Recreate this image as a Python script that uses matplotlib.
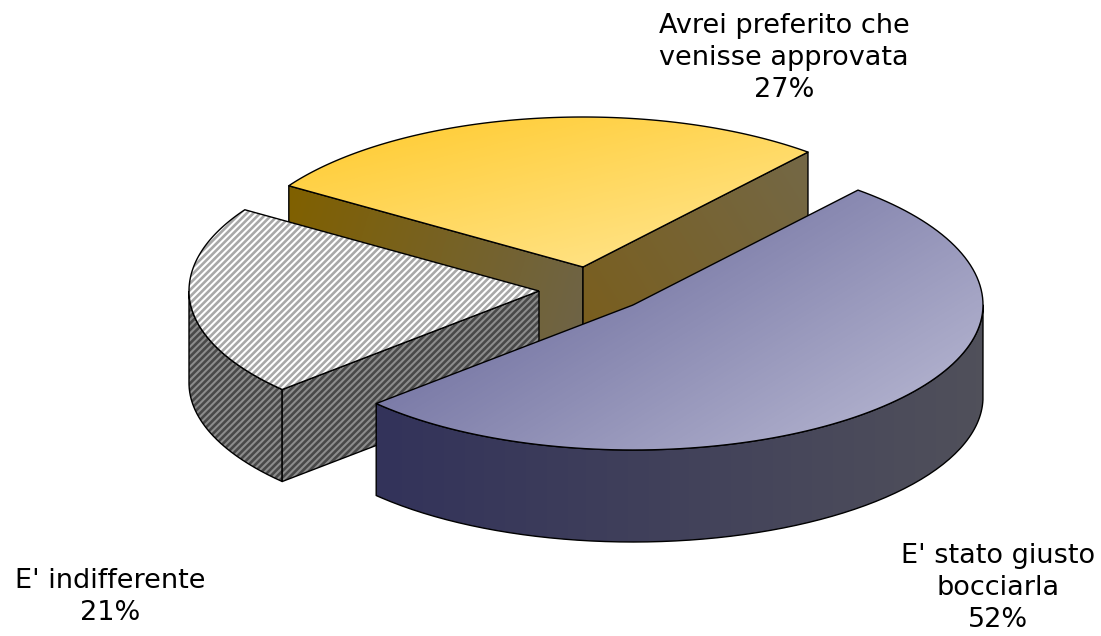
import numpy as np
import matplotlib
matplotlib.use("Agg")
import matplotlib.pyplot as plt
from matplotlib.colors import LinearSegmentedColormap
from matplotlib.path import Path
from matplotlib.patches import PathPatch

labels = ["Avrei preferito che\nvenisse approvata\n27%", "E' indifferente\n21%", "E' stato giusto\nbocciarla\n52%"]
shares = [27, 21, 52]

# pie geometry in pixels (y goes down)
start = 50.0
rx = 350.0
ry_back = 150.0
ry_front = 145.0
depth = 92.0
centers = [(583, 267), (539, 291), (633, 305)]

plt.rcParams['hatch.linewidth'] = 1.9

fig = plt.figure(figsize=(11.01, 6.36), dpi=100)
ax = fig.add_axes([0, 0, 1, 1])

# slice limits from the shares
edges = start + np.cumsum([0] + shares) * 3.6


def rim(c, a0, a1, down=0):
    a = np.radians(np.linspace(a0, a1, 120))
    s = np.sin(a)
    # back half of the ellipse is a bit taller than the front
    return np.column_stack([c[0] + rx * np.cos(a), c[1] - np.where(s > 0, ry_back, ry_front) * s + down])


def face(pts, z, c0=None, c1=None, ang=45, hatch=None, fc=None, hc=None):
    path = Path(np.vstack([pts, pts[0]]))
    if hatch:
        p = PathPatch(path, facecolor=fc, edgecolor=hc, hatch=hatch, lw=0, zorder=z)
        ax.add_patch(p)
    else:
        x0, y0 = pts.min(axis=0)
        x1, y1 = pts.max(axis=0)
        xx, yy = np.meshgrid(np.linspace(0, 1, 60), np.linspace(0, 1, 60))
        t = xx * np.cos(np.radians(ang)) + yy * np.sin(np.radians(ang))
        t = (t - t.min()) / (t.max() - t.min())
        cmap = LinearSegmentedColormap.from_list("g", [c0, c1])
        im = ax.imshow(t, extent=(x0, x1, y1, y0), origin="upper", cmap=cmap, aspect="auto",
                       interpolation="bilinear", zorder=z)
        im.set_clip_path(PathPatch(path, transform=ax.transData))
    ax.add_patch(PathPatch(path, facecolor="none", edgecolor="black", lw=1.0, zorder=z + 0.1,
                           joinstyle="round"))


def cut(c, a, z, **kw):
    e = rim(c, a, a)[0]
    pts = np.array([c, e, (e[0], e[1] + depth), (c[0], c[1] + depth)], dtype=float)
    face(pts, z, **kw)


def top(c, a0, a1):
    return np.vstack([[c], rim(c, a0, a1)])


def side(c, a0, a1):
    return np.vstack([rim(c, a0, a1), rim(c, a1, a0, depth)])


# yellow slice
c = centers[0]
cut(c, edges[1], 1, c0="#806000", c1="#6e6448", ang=10)
cut(c, edges[0], 1.2, c0="#7a5e1c", c1="#746846", ang=-30)
face(top(c, edges[0], edges[1]), 2, c0="#ffca2c", c1="#ffe795", ang=50)

# grey slice, dithered
c = centers[1]
face(side(c, 180, edges[2]), 3, hatch="/////", fc="#8c8c8c", hc="#484848")
cut(c, edges[2], 3.2, hatch="/////", fc="#8c8c8c", hc="#484848")
face(top(c, edges[1], edges[2]), 4, hatch="/////", fc="white", hc="#a8a8a8")

# blue slice
c = centers[2]
face(side(c, edges[2], 360), 5, c0="#33335a", c1="#50505a", ang=0)
face(top(c, edges[2], edges[3]), 6, c0="#5b5b91", c1="#bcbcd5", ang=35)

# labels
lx = [784, 110, 998]
ly = [58, 597, 588]
for s, x, y in zip(labels, lx, ly):
    ax.text(x, y, s, ha="center", va="center", fontsize=19.5, color="black",
            family="DejaVu Sans", linespacing=1.32)

ax.set_xlim(0, 1101)
ax.set_ylim(636, 0)
ax.axis("off")
fig.savefig("out.png", dpi=100, facecolor="white")
